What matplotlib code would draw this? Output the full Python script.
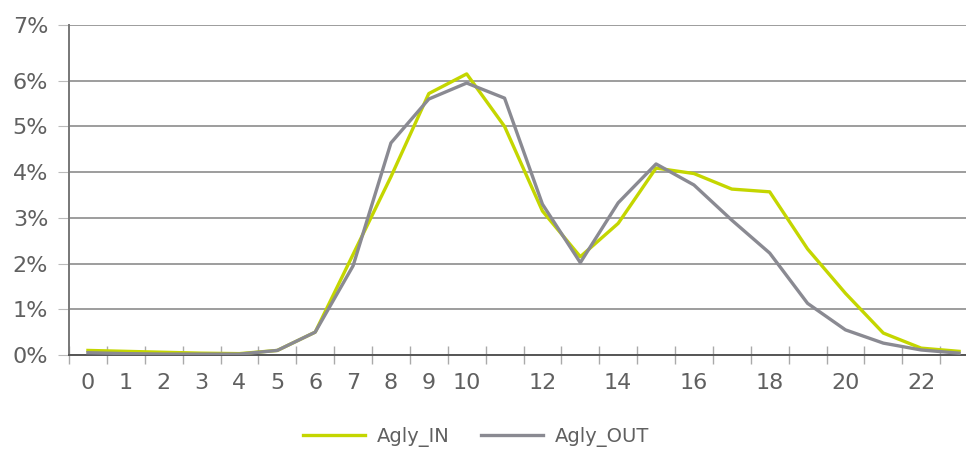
import matplotlib.pyplot as plt
import numpy as np

# Répartition horaire des flux (%)
hours = list(range(24))
agly_in = [0.10, 0.08, 0.06, 0.04, 0.03, 0.10, 0.50, 2.20, 3.90, 5.72, 6.15, 5.00,
           3.15, 2.15, 2.88, 4.09, 3.97, 3.63, 3.57, 2.32, 1.35, 0.48, 0.15, 0.08]
agly_out = [0.05, 0.03, 0.02, 0.02, 0.02, 0.10, 0.50, 1.95, 4.64, 5.60, 5.95, 5.62,
            3.30, 2.02, 3.33, 4.18, 3.72, 2.95, 2.23, 1.13, 0.55, 0.26, 0.11, 0.04]
xtick_pos = [0, 1, 2, 3, 4, 5, 6, 7, 8, 9, 10, 12, 14, 16, 18, 20, 22]
ytick_pos = [0, 1, 2, 3, 4, 5, 6, 7.22]
ytick_labels = ['0%', '1%', '2%', '3%', '4%', '5%', '6%', '7%']

W, H = 966, 451
fig = plt.figure(figsize=(W / 100, H / 100), dpi=100)
ax = fig.add_axes([69 / W, (H - 355) / H, (978 - 69) / W, (355 - 25) / H])

txt = '#606060'
ax.plot(hours, agly_in, color='#c4d600', lw=2.4, label='Agly_IN', zorder=3)
ax.plot(hours, agly_out, color='#8a8a92', lw=2.4, label='Agly_OUT', zorder=4)

ax.set_xlim(-0.5, 23.5)
ax.set_ylim(0, 7.22)

ax.set_yticks(ytick_pos)
ax.set_yticklabels(ytick_labels)
ax.yaxis.grid(True, color='#8c8c8c', lw=1.2)
ax.set_axisbelow(True)

ax.set_xticks(xtick_pos)
ax.set_xticklabels([str(h) for h in xtick_pos])
ax.set_xticks(np.arange(-0.5, 23.5, 1), minor=True)
ax.tick_params(axis='x', which='major', length=0, pad=13, labelsize=16, labelcolor=txt)
ax.tick_params(axis='x', which='minor', length=13, direction='inout', color='#aaaaaa', width=1)
ax.tick_params(axis='y', length=8, direction='out', color='#bbbbbb', pad=7,
               labelsize=16, labelcolor=txt)

for s in ['top', 'right']:
    ax.spines[s].set_visible(False)
ax.spines['left'].set_color('#777777')
ax.spines['left'].set_linewidth(1.4)
ax.spines['bottom'].set_color('#555555')
ax.spines['bottom'].set_linewidth(1.4)

fig.legend(loc='center', bbox_to_anchor=(476 / W, 1 - 437 / H), ncol=2, frameon=False,
           fontsize=14, labelcolor=txt, handlelength=3.2, columnspacing=1.6,
           handletextpad=0.6)

plt.savefig('out.png', dpi=100)
